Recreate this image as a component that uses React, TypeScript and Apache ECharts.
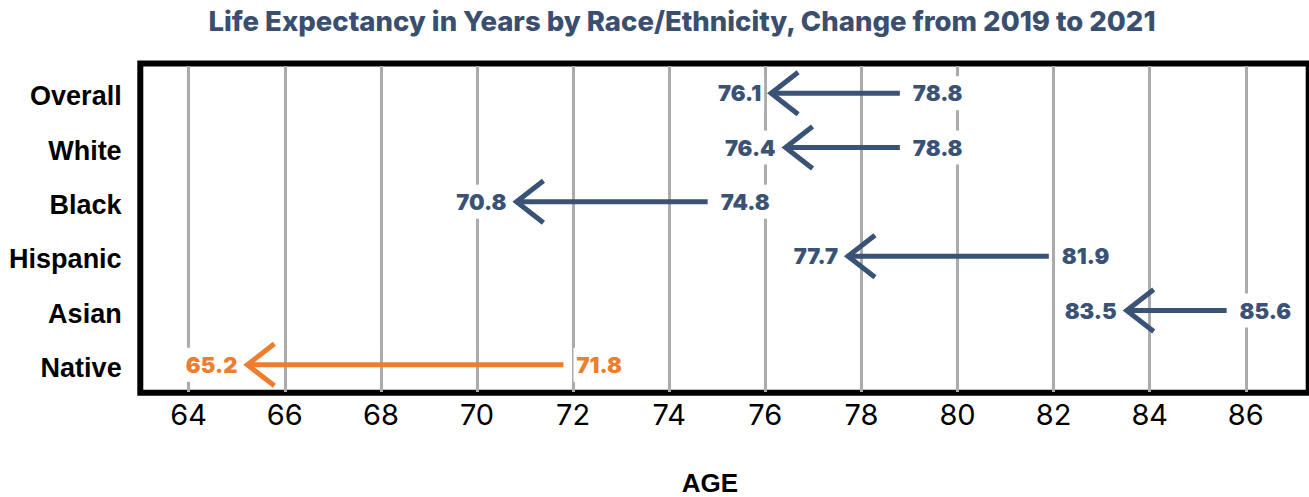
import React, { useEffect, useRef } from "react";
import * as echarts from "echarts";

const categories = ["Overall", "White", "Black", "Hispanic", "Asian", "Native"];
const life2019 = [78.8, 78.8, 74.8, 81.9, 85.6, 71.8];
const life2021 = [76.1, 76.4, 70.8, 77.7, 83.5, 65.2];
const ageTicks = [64, 66, 68, 70, 72, 74, 76, 78, 80, 82, 84, 86];
const highlighted = "Native";

const NAVY = "#3a5275";
const ORANGE = "#ee7d2e";

export default function App() {
  const ref = useRef<HTMLDivElement>(null);
  useEffect(() => {
    if (!ref.current) return;
    const chart = echarts.init(ref.current, null, { renderer: "svg" });
    const data = categories.map((c, i) => [i, life2019[i], life2021[i]]);
    chart.setOption({
      animation: false,
      backgroundColor: "#fff",
      title: {
        text: "Life Expectancy in Years by Race/Ethnicity, Change from 2019 to 2021",
        left: 682,
        textAlign: "center",
        top: 7,
        padding: 0,
        textStyle: { color: "#3a4f6f", fontSize: 27.5, fontWeight: 800, fontFamily: "Inter" },
      },
      grid: { left: 140.65, right: 0.7, top: 66, bottom: 105, containLabel: false },
      xAxis: {
        type: "value",
        min: 63,
        max: 87.3,
        axisLine: { show: false },
        axisTick: { show: false },
        splitLine: { show: false },
        axisLabel: {
          customValues: ageTicks,
          color: "#000",
          fontSize: 29,
          fontFamily: "Inter",
          margin: 8,
        },
      },
      yAxis: {
        type: "category",
        inverse: true,
        data: categories,
        axisLine: { show: false },
        axisTick: { show: false },
        splitLine: { show: false },
        axisLabel: {
          margin: 19,
          formatter: (v: string) => `{c|${v}}`,
          rich: {
            c: {
              color: "#000",
              fontSize: 27,
              fontWeight: "bold",
              fontFamily: "Liberation Sans",
              padding: [6, 0, 0, 0],
            },
          },
        },
      },
      graphic: [
        {
          type: "rect",
          z: 1,
          shape: { x: 140.3, y: 63.5, width: 1168.4, height: 329.3 },
          style: { fill: "none", stroke: "#000", lineWidth: 6 },
        },
        {
          type: "text",
          x: 710,
          y: 483,
          style: {
            text: "AGE",
            align: "center",
            verticalAlign: "middle",
            fill: "#000",
            fontSize: 26,
            fontWeight: "bold",
            fontFamily: "Liberation Sans",
          },
        },
      ],
      series: [
        {
          type: "line",
          data: [],
          z: 3,
          markLine: {
            silent: true,
            symbol: "none",
            label: { show: false },
            lineStyle: { color: "#ababab", width: 3, type: "solid" },
            data: ageTicks.map((v) => ({ xAxis: v })),
          },
        },
        {
          type: "custom",
          z: 5,
          encode: { x: [1, 2], y: 0 },
          data,
          renderItem: (params: any, api: any) => {
            const idx = api.value(0);
            const from = api.value(1);
            const to = api.value(2);
            const a = api.coord([from, idx]);
            const b = api.coord([to, idx]);
            const y = a[1];
            const color = categories[idx] === highlighted ? ORANGE : NAVY;
            const font = { fontSize: 22, fontWeight: 900, fontFamily: "Inter" };
            return {
              type: "group",
              children: [
                {
                  type: "line",
                  shape: { x1: a[0], y1: y, x2: b[0] + 3, y2: y },
                  style: { stroke: color, lineWidth: 5, lineCap: "butt" },
                },
                {
                  type: "polyline",
                  shape: { points: [[b[0] + 28, y - 21], [b[0] + 1, y], [b[0] + 28, y + 21]] },
                  style: { stroke: color, fill: "none", lineWidth: 5, lineJoin: "miter", lineCap: "butt" },
                },
                {
                  type: "text",
                  x: b[0] - 6,
                  y: y,
                  style: {
                    text: to.toFixed(1),
                    align: "right",
                    verticalAlign: "middle",
                    fill: color,
                    backgroundColor: "#fff",
                    padding: [6, 3, 6, 3],
                    ...font,
                  },
                },
                {
                  type: "text",
                  x: a[0] + 10,
                  y: y,
                  style: {
                    text: from.toFixed(1),
                    align: "left",
                    verticalAlign: "middle",
                    fill: color,
                    backgroundColor: "#fff",
                    padding: [6, 3, 6, 3],
                    ...font,
                  },
                },
              ],
            };
          },
        },
      ],
    });
    return () => chart.dispose();
  }, []);
  return (
    <div
      ref={ref}
      style={{ position: "fixed", left: 0, top: 0, width: 1309, height: 497 }}
    />
  );
}
